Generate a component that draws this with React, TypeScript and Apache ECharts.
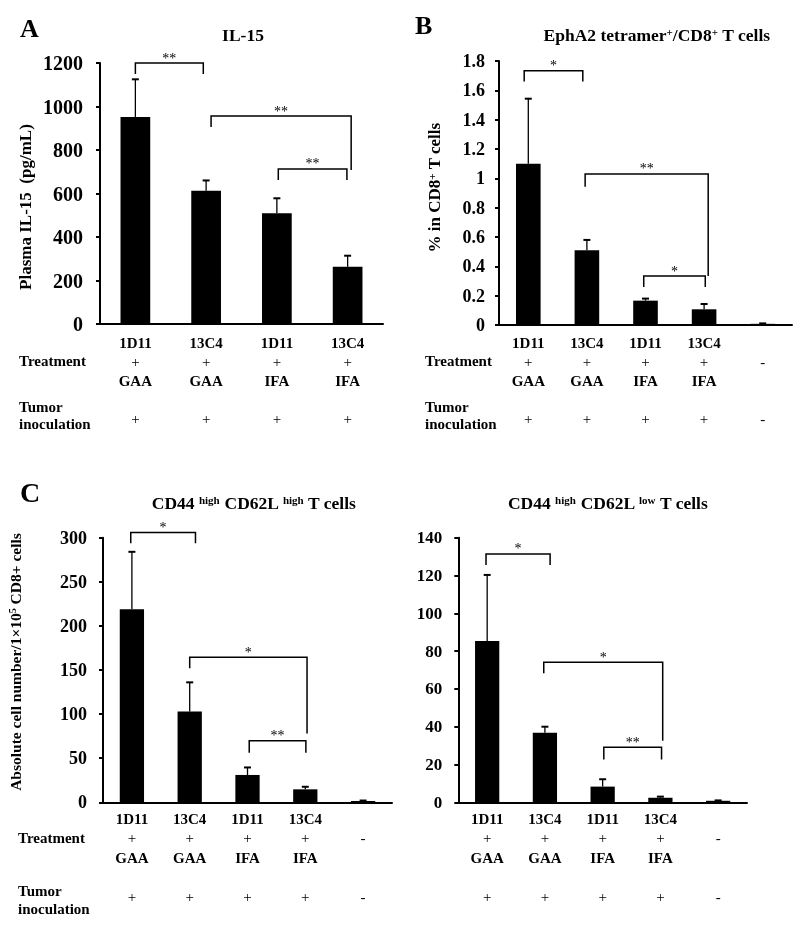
import React, { useEffect, useRef } from "react";
import * as echarts from "echarts";

const FONT = '"Liberation Serif", "Times New Roman", serif';

// Categories
const groups4 = ["1D11+GAA", "13C4+GAA", "1D11+IFA", "13C4+IFA"];
const groups5 = ["1D11+GAA", "13C4+GAA", "1D11+IFA", "13C4+IFA", "None"];
const antibody = ["1D11", "13C4", "1D11", "13C4", ""];
const adjuvant = ["GAA", "GAA", "IFA", "IFA", ""];
const treatmentSign = ["+", "+", "+", "+", "-"];
const tumorSign = ["+", "+", "+", "+", "-"];

// A: Plasma IL-15 (pg/mL)
const il15Mean = [952, 613, 509, 263];
const il15SD = [173, 47, 69, 51];
// B: EphA2 tetramer+/CD8+ T cells (%)
const tetMean = [1.1, 0.51, 0.166, 0.107, 0.008];
const tetSD = [0.443, 0.07, 0.014, 0.036, 0.003];
// C left: CD44 high CD62L high
const hhMean = [219, 103, 31, 14.7, 1.5];
const hhSD = [65, 33, 8.5, 2.9, 0.5];
// C right: CD44 high CD62L low
const hlMean = [85.3, 36.8, 8.3, 2.4, 0.8];
const hlSD = [35, 3.2, 3.9, 0.6, 0.2];

// Significance brackets: [x1 (category pos), x2, top, leftLegEnd, rightLegEnd, label]
const bracketsA = [
  [0, 0.96, 1200, 1150, 1150, "**"],
  [1.07, 3.05, 956, 906, 708, "**"],
  [2.02, 2.99, 713, 662, 662, "**"],
];
const bracketsB = [
  [-0.07, 0.93, 1.733, 1.66, 1.66, "*"],
  [0.97, 3.07, 1.03, 0.943, 0.334, "**"],
  [1.97, 3.02, 0.334, 0.259, 0.259, "*"],
];
const bracketsC1 = [
  [-0.02, 1.1, 306, 293.6, 293.6, "*"],
  [1.0, 3.03, 164.4, 152, 78, "*"],
  [2.03, 3.01, 69.8, 56.2, 56.2, "**"],
];
const bracketsC2 = [
  [-0.02, 1.09, 131.4, 125.6, 125.6, "*"],
  [0.98, 3.04, 74.1, 68.3, 32.6, "*"],
  [2.02, 3.02, 29.1, 22.7, 22.7, "**"],
];

function xLabelFormatter(index: number) {
  if (antibody[index]) {
    return `{b|${antibody[index]}}\n{p|${treatmentSign[index]}}\n{b|${adjuvant[index]}}\n{p| }\n{p|${tumorSign[index]}}`;
  }
  return `{p| }\n{p|${treatmentSign[index]}}\n{p| }\n{p| }\n{p|${tumorSign[index]}}`;
}

function makeXAxis(gridIndex: number, data: string[], margin: number, lh: number) {
  return {
    type: "category",
    gridIndex,
    data,
    axisLine: { show: true, lineStyle: { color: "#000", width: 2 } },
    axisTick: { show: false },
    axisLabel: {
      interval: 0,
      margin,
      lineHeight: lh,
      verticalAlign: "top",
      formatter: (_v: string, i: number) => xLabelFormatter(i),
      rich: {
        b: { fontFamily: FONT, fontWeight: "bold", fontSize: 15, lineHeight: lh, color: "#000" },
        p: { fontFamily: FONT, fontSize: 15, lineHeight: lh, color: "#000" },
      },
    },
  };
}

function makeYAxis(gridIndex: number, max: number, interval: number, fontSize: number, margin: number) {
  return {
    type: "value",
    gridIndex,
    min: 0,
    max,
    interval,
    axisLine: { show: true, lineStyle: { color: "#000", width: 2 } },
    axisTick: { show: true, inside: false, length: 4, lineStyle: { color: "#000", width: 2 } },
    splitLine: { show: false },
    axisLabel: {
      fontFamily: FONT,
      fontWeight: "bold",
      fontSize,
      color: "#000",
      margin,
      formatter: (v: number) => String(Math.round(v * 1000) / 1000),
    },
  };
}

function barSeries(idx: number, data: number[]) {
  return {
    type: "bar",
    xAxisIndex: idx,
    yAxisIndex: idx,
    data,
    barWidth: "42%",
    itemStyle: { color: "#000" },
    silent: true,
  };
}

function errorSeries(idx: number, mean: number[], sd: number[]) {
  return {
    type: "custom",
    xAxisIndex: idx,
    yAxisIndex: idx,
    clip: false,
    silent: true,
    encode: { x: 0, y: [1, 2] },
    data: mean.map((m, i) => [i, m, m + sd[i]]),
    renderItem: (_params: any, api: any) => {
      const i = api.value(0);
      const p0 = api.coord([i, api.value(1)]);
      const p1 = api.coord([i, api.value(2)]);
      return {
        type: "group",
        children: [
          {
            type: "line",
            shape: { x1: p0[0], y1: p0[1], x2: p1[0], y2: p1[1] },
            style: { stroke: "#000", lineWidth: 1.3 },
          },
          {
            type: "line",
            shape: { x1: p1[0] - 3.5, y1: p1[1], x2: p1[0] + 3.5, y2: p1[1] },
            style: { stroke: "#000", lineWidth: 2 },
          },
        ],
      };
    },
  };
}

function bracketSeries(idx: number, list: any[]) {
  return {
    type: "custom",
    xAxisIndex: idx,
    yAxisIndex: idx,
    clip: false,
    silent: true,
    encode: { x: 0, y: 1 },
    data: list.map((b) => [0, b[2]]),
    renderItem: (params: any, api: any) => {
      const b = list[params.dataIndex];
      const c0 = api.coord([0, 0])[0];
      const bw = api.size([1, 0])[0];
      const x1 = c0 + b[0] * bw;
      const x2 = c0 + b[1] * bw;
      const yTop = api.coord([0, b[2]])[1];
      const yL = api.coord([0, b[3]])[1];
      const yR = api.coord([0, b[4]])[1];
      return {
        type: "group",
        children: [
          {
            type: "polyline",
            shape: { points: [[x1, yL], [x1, yTop], [x2, yTop], [x2, yR]] },
            style: { stroke: "#000", lineWidth: 1.5, fill: "none" },
          },
          {
            type: "text",
            x: (x1 + x2) / 2,
            y: yTop - 5,
            style: {
              text: b[5],
              fill: "#000",
              fontFamily: FONT,
              fontSize: 14,
              align: "center",
              verticalAlign: "middle",
            },
          },
        ],
      };
    },
  };
}

function txt(text: string, x: number, y: number, size: number, opts: any = {}) {
  return {
    type: "text",
    x,
    y,
    rotation: opts.rotation || 0,
    silent: true,
    style: {
      text,
      fill: "#000",
      fontFamily: FONT,
      fontWeight: opts.weight || "bold",
      fontSize: size,
      align: opts.align || "left",
      verticalAlign: "middle",
      lineHeight: opts.lineHeight,
      rich: opts.rich,
    },
  };
}

const supRich = (size: number) => ({
  s: { fontFamily: FONT, fontWeight: "bold", fontSize: size, verticalAlign: "top", fill: "#000" },
});

export default function App() {
  const ref = useRef<HTMLDivElement>(null);
  useEffect(() => {
    if (!ref.current) return;
    const chart = echarts.init(ref.current, null, { renderer: "svg" });
    const option: any = {
      animation: false,
      backgroundColor: "#fff",
      grid: [
        { left: 100, top: 63, width: 283, height: 261 },
        { left: 499, top: 61, width: 293, height: 264 },
        { left: 103, top: 537.7, width: 289, height: 264.6 },
        { left: 458.3, top: 537.7, width: 288.7, height: 264.6 },
      ],
      xAxis: [
        makeXAxis(0, groups4, 9, 19),
        makeXAxis(1, groups5, 8, 19),
        makeXAxis(2, groups5, 6.5, 19.5),
        makeXAxis(3, groups5, 6.5, 19.5),
      ],
      yAxis: [
        makeYAxis(0, 1200, 200, 20, 17),
        makeYAxis(1, 1.8, 0.2, 18, 14),
        makeYAxis(2, 300, 50, 18, 16),
        makeYAxis(3, 140, 20, 17, 16),
      ],
      series: [
        barSeries(0, il15Mean),
        errorSeries(0, il15Mean, il15SD),
        bracketSeries(0, bracketsA),
        barSeries(1, tetMean),
        errorSeries(1, tetMean, tetSD),
        bracketSeries(1, bracketsB),
        barSeries(2, hhMean),
        errorSeries(2, hhMean, hhSD),
        bracketSeries(2, bracketsC1),
        barSeries(3, hlMean),
        errorSeries(3, hlMean, hlSD),
        bracketSeries(3, bracketsC2),
      ],
      graphic: [
        // Panel A
        txt("A", 20, 28, 26),
        txt("IL-15", 243, 35, 17.5, { align: "center" }),
        txt("Plasma IL-15  (pg/mL)", 25, 207, 17, { align: "center", rotation: Math.PI / 2 }),
        txt("Treatment", 19, 361, 15),
        txt("Tumor", 19, 407, 15),
        txt("inoculation", 19, 424, 15),
        // Panel B
        txt("B", 415, 25, 26),
        txt("EphA2 tetramer{s|+}/CD8{s|+} T cells", 657, 35, 17.5, { align: "center", rich: supRich(11) }),
        txt("% in CD8{s|+} T cells", 434.5, 187.5, 17, {
          align: "center",
          rotation: Math.PI / 2,
          rich: supRich(11),
        }),
        txt("Treatment", 425, 361, 15),
        txt("Tumor", 425, 407, 15),
        txt("inoculation", 425, 424, 15),
        // Panel C
        txt("C", 20, 492, 28),
        txt("CD44 {s|high} CD62L {s|high} T cells", 254, 503, 17.5, { align: "center", rich: supRich(11) }),
        txt("CD44 {s|high} CD62L {s|low} T cells", 608, 503, 17.5, { align: "center", rich: supRich(11) }),
        txt("Absolute cell number/1×10{s|5} CD8+ cells", 15, 662, 15.5, {
          align: "center",
          rotation: Math.PI / 2,
          rich: supRich(10),
        }),
        txt("Treatment", 18, 838, 15),
        txt("Tumor", 18, 891, 15),
        txt("inoculation", 18, 909, 15),
      ],
    };
    chart.setOption(option);
    return () => chart.dispose();
  }, []);
  return (
    <div
      ref={ref}
      style={{
        position: "absolute",
        left: 0,
        top: 0,
        width: 800,
        height: 934,
        background: "#fff",
        filter: "grayscale(1)",
      }}
    />
  );
}
